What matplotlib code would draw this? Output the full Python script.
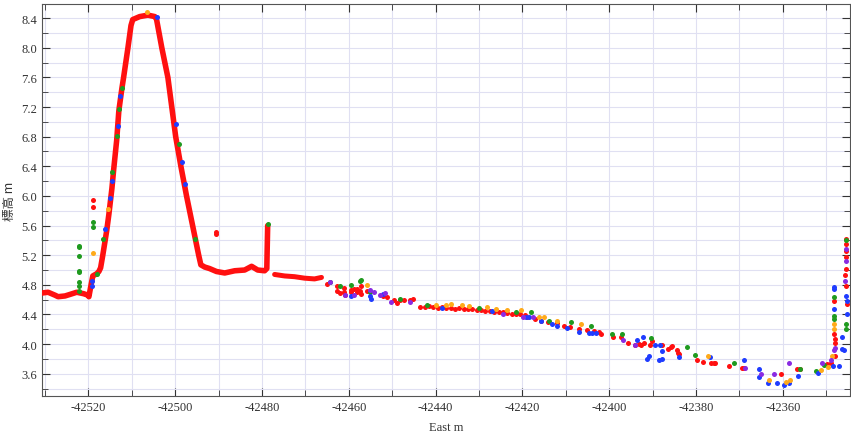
import matplotlib.pyplot as plt
from matplotlib.ticker import MultipleLocator

# main red profile (dense dots drawn as a thick line)
prof1_x = [-42530.7, -42529.3, -42527.7, -42527.0, -42525.4, -42524.3, -42522.7, -42521.1,
           -42520.1, -42519.9, -42519.4, -42519.0, -42518.1, -42517.6, -42517.2, -42516.7,
           -42515.8, -42515.3, -42514.6, -42514.2, -42513.5, -42513.0, -42512.3, -42511.9,
           -42510.9, -42510.2, -42509.8, -42508.2, -42506.3, -42504.7, -42504.3, -42503.1,
           -42501.7, -42500.8, -42499.9, -42498.7, -42497.4, -42496.0, -42494.6, -42494.1,
           -42493.2, -42492.1, -42490.5, -42488.6, -42486.3, -42484.0, -42482.4, -42481.0,
           -42479.4, -42478.9, -42478.7]
prof1_y = [4.69, 4.70, 4.66, 4.64, 4.65, 4.67, 4.70, 4.68,
           4.66, 4.64, 4.80, 4.92, 4.95, 4.98, 5.03, 5.20,
           5.53, 5.75, 6.10, 6.35, 6.75, 7.15, 7.45, 7.60,
           8.00, 8.30, 8.38, 8.42, 8.44, 8.42, 8.38, 8.00,
           7.60, 7.20, 6.80, 6.40, 6.00, 5.60, 5.20, 5.07,
           5.04, 5.02, 4.98, 4.96, 4.99, 5.00, 5.05, 5.00,
           4.99, 5.02, 5.60]

prof2_x = [-42477.1, -42474.8, -42472.5, -42470.2, -42467.9, -42466.3]
prof2_y = [4.94, 4.92, 4.91, 4.89, 4.88, 4.90]

red_x = [-42490.5, -42490.5,
         -42465.1, -42462.8, -42462.8, -42462.1, -42461.0, -42461.0, -42460.8, -42459.6,
         -42459.4, -42458.7, -42458.0, -42458.0, -42457.5, -42457.1, -42457.1, -42455.7,
         -42452.2, -42451.3, -42449.5, -42449.0, -42448.3, -42447.2, -42446.0, -42445.3,
         -42443.5, -42442.5, -42441.5, -42440.5, -42439.5, -42438.5, -42437.5, -42436.5,
         -42435.5, -42434.5, -42433.5, -42432.5, -42431.5, -42430.5, -42429.5, -42428.5,
         -42427.5, -42426.5, -42425.5, -42424.5, -42423.5, -42422.5, -42421.5, -42420.5,
         -42419.5, -42419.0, -42417.0, -42415.7, -42414.0, -42412.0, -42410.5, -42409.0,
         -42407.0, -42405.0, -42403.5, -42402.3, -42401.8, -42399.1, -42397.2, -42395.6,
         -42394.0, -42393.1, -42392.6, -42392.0, -42390.6, -42390.1, -42387.8, -42386.4,
         -42385.7, -42385.5, -42384.4, -42384.1, -42383.9, -42379.8, -42378.4, -42376.5,
         -42375.8, -42375.6, -42372.4, -42369.4, -42368.9, -42360.4, -42356.7, -42356.1,
         -42349.8, -42348.9, -42348.2, -42348.2, -42348.0, -42348.0, -42348.0,
         -42345.5, -42345.5, -42345.5, -42345.5, -42345.7, -42345.5, -42345.2, -42345.5,
         -42518.9, -42518.9]
red_y = [5.49, 5.51,
         4.81, 4.78, 4.72, 4.69, 4.76, 4.70, 4.66, 4.73,
         4.70, 4.75, 4.70, 4.74, 4.72, 4.79, 4.68, 4.72,
         4.65, 4.64, 4.59, 4.55, 4.59, 4.60, 4.60, 4.61,
         4.50, 4.50, 4.51, 4.50, 4.49, 4.50, 4.49, 4.49,
         4.48, 4.49, 4.48, 4.47, 4.47, 4.46, 4.46, 4.45,
         4.45, 4.44, 4.44, 4.43, 4.42, 4.41, 4.41, 4.40,
         4.39, 4.37, 4.34, 4.31, 4.30, 4.28, 4.25, 4.23,
         4.21, 4.19, 4.18, 4.16, 4.14, 4.09, 4.09, 4.02,
         3.99, 4.00, 3.99, 4.02, 3.99, 4.04, 3.99, 3.94,
         3.96, 3.98, 3.92, 3.88, 3.86, 3.79, 3.76, 3.75,
         3.75, 3.75, 3.70, 3.68, 3.68, 3.60, 3.66, 3.66,
         3.73, 3.75, 4.58, 4.14, 4.07, 4.01, 3.84,
         5.42, 5.35, 5.18, 5.02, 4.93, 4.78, 4.54, 5.25,
         5.95, 5.85]

green_x = [-42522.2, -42522.2, -42522.2, -42522.2, -42522.2, -42522.2, -42522.2, -42522.2,
           -42519.0, -42519.0, -42518.1, -42516.7, -42514.6, -42512.3, -42513.0, -42513.5,
           -42499.2, -42495.5, -42478.7,
           -42464.4, -42462.1, -42459.4, -42457.5, -42457.1, -42455.2, -42448.3, -42441.9,
           -42429.9, -42421.4, -42418.0, -42413.8, -42408.8, -42404.1, -42399.3, -42397.0,
           -42390.3, -42382.1, -42380.2, -42371.2, -42356.1, -42352.4, -42350.5,
           -42348.2, -42348.2, -42348.2, -42345.5, -42345.5, -42345.5]
green_y = [5.33, 5.31, 5.19, 4.99, 4.98, 4.84, 4.79, 4.72,
           5.65, 5.58, 4.95, 5.42, 6.32, 7.45, 7.17, 6.81,
           6.70, 5.42, 5.62,
           4.84, 4.79, 4.80, 4.85, 4.87, 4.70, 4.61, 4.53,
           4.49, 4.43, 4.43, 4.31, 4.30, 4.25, 4.14, 4.14,
           4.08, 3.96, 3.85, 3.74, 3.66, 3.64, 3.72,
           4.64, 4.38, 4.34, 4.27, 4.21, 5.40]

blue_x = [-42519.2, -42519.2, -42516.2, -42515.1, -42514.6, -42512.8, -42513.2, -42504.3,
          -42499.9, -42498.5, -42497.8,
          -42459.4, -42455.2, -42454.8, -42452.2,
          -42438.5, -42427.0, -42419.1, -42418.5, -42415.7, -42413.1, -42412.0, -42409.7,
          -42406.9, -42404.6, -42403.0, -42404.0, -42393.6, -42392.2, -42391.3, -42390.8,
          -42389.4, -42388.3, -42387.8, -42388.5, -42387.8, -42383.9, -42376.8, -42368.9,
          -42365.5, -42365.5, -42363.4, -42361.4, -42359.7, -42358.6, -42356.5, -42351.9,
          -42348.5, -42347.1, -42346.4, -42348.2, -42348.2, -42348.2, -42345.5, -42345.2,
          -42345.2, -42345.9, -42346.4]
blue_y = [4.85, 4.79, 5.55, 5.97, 6.20, 7.35, 6.95, 8.41,
          6.97, 6.46, 6.16,
          4.65, 4.65, 4.61, 4.68,
          4.49, 4.45, 4.37, 4.36, 4.31, 4.27, 4.25, 4.22,
          4.17, 4.15, 4.15, 4.15, 4.06, 4.10, 3.80, 3.84,
          3.99, 3.99, 3.91, 3.79, 3.80, 3.82, 3.82, 3.78,
          3.67, 3.56, 3.48, 3.48, 3.45, 3.47, 3.57, 3.61,
          3.71, 3.70, 3.94, 4.77, 4.74, 4.47, 4.65, 4.58,
          4.41, 3.92, 4.10]

orange_x = [-42506.6, -42515.5, -42518.9,
            -42455.7, -42439.8, -42437.5, -42436.4, -42433.8, -42432.2, -42428.1, -42426.0,
            -42423.5, -42420.3, -42416.1, -42415.0, -42412.0, -42406.4,
            -42377.2, -42363.2, -42359.3, -42358.4, -42351.2, -42349.6, -42348.7,
            -42348.2, -42348.2]
orange_y = [8.48, 5.83, 5.23,
            4.80, 4.53, 4.53, 4.54, 4.53, 4.52, 4.50, 4.48,
            4.46, 4.46, 4.37, 4.37, 4.31, 4.27,
            3.84, 3.52, 3.49, 3.52, 3.65, 3.69, 3.84,
            4.27, 4.20]

purple_x = [-42464.4, -42460.8, -42458.7, -42455.2, -42454.1, -42452.9, -42451.6, -42450.2,
            -42446.0, -42424.5, -42419.8, -42417.5, -42396.8, -42394.0, -42368.7, -42365.0,
            -42362.0, -42358.6, -42351.0, -42348.9, -42348.0, -42348.2, -42345.5, -42345.5,
            -42345.7]
purple_y = [4.84, 4.66, 4.66, 4.73, 4.71, 4.66, 4.69, 4.57,
            4.57, 4.41, 4.37, 4.36, 4.05, 3.99, 3.68, 3.60,
            3.59, 3.75, 3.75, 3.78, 3.95, 3.92, 5.29, 5.12,
            4.85]

plt.rcParams['font.family'] = ['Liberation Serif', 'Noto Sans CJK JP']
plt.rcParams['axes.unicode_minus'] = False

fig = plt.figure(figsize=(8.51, 4.39), dpi=100)
ax = fig.add_axes([0.0494, 0.0957, 0.9494, 0.8929])

ms = 13
ax.plot(prof1_x, prof1_y, color='#ff1010', lw=4.0, solid_capstyle='round', solid_joinstyle='round', zorder=3)
ax.plot(prof2_x, prof2_y, color='#ff1010', lw=3.6, solid_capstyle='round', solid_joinstyle='round', zorder=3)
ax.scatter(red_x, red_y, s=ms, color='#ff1010', lw=0, zorder=3)
ax.scatter(green_x, green_y, s=ms, color='#1f9a1f', lw=0, zorder=4)
ax.scatter(blue_x, blue_y, s=ms, color='#1f3cff', lw=0, zorder=4)
ax.scatter(orange_x, orange_y, s=ms, color='#ffaa1a', lw=0, zorder=4)
ax.scatter(purple_x, purple_y, s=ms, color='#8a2be2', lw=0, zorder=4)

ax.set_xlim(-42530.7, -42344.5)
ax.set_ylim(3.30, 8.59)
ax.xaxis.set_major_locator(MultipleLocator(20))
ax.xaxis.set_minor_locator(MultipleLocator(10))
ax.yaxis.set_major_locator(MultipleLocator(0.4))
ax.yaxis.set_minor_locator(MultipleLocator(0.2))
ax.yaxis.set_major_formatter(plt.FormatStrFormatter('%.1f'))
ax.grid(True, which='both', color='#e0e0f2', lw=0.8, zorder=0)
ax.set_axisbelow(True)
ax.tick_params(which='both', direction='in', top=True, right=True, labelsize=9,
               colors='#333333', labelcolor='#333333')
ax.tick_params(which='major', length=6)
ax.tick_params(which='minor', length=4)
for sp in ax.spines.values():
    sp.set_color('#555555')

ax.set_xlabel('East m', fontsize=9, color='#333333', labelpad=6)
ax.set_ylabel('標高 m', fontsize=9, color='#333333', family=['Noto Sans CJK JP'], labelpad=4)

fig.savefig('out.png', dpi=100)
